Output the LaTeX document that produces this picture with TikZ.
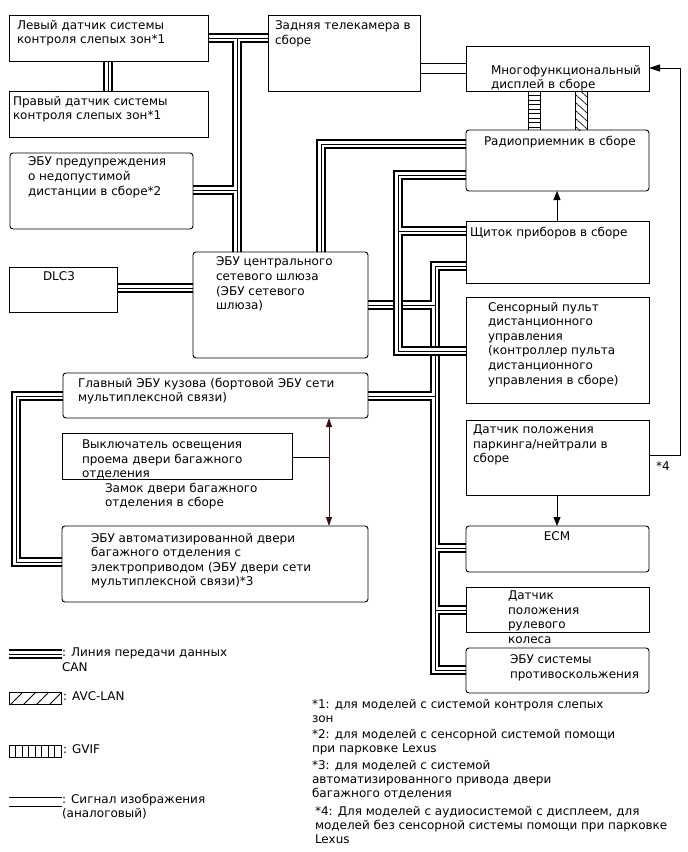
\documentclass[tikz,border=0pt]{standalone}
\usepackage{fontspec}
\setmainfont{DejaVu Sans}
\usetikzlibrary{arrows.meta,backgrounds}
\definecolor{tgcol}{HTML}{3A1010}
\newcommand\drawcan[1]{\draw[canouter] #1; \draw[caninner] #1; \draw[cancore] #1;}
\begin{document}
\begin{tikzpicture}[x=1pt,y=-1pt,
  box/.style={draw, line width=0.9pt, inner sep=0pt, outer sep=0pt, anchor=north west},
  rbox/.style={box, rounded corners=3pt},
  txt/.style={anchor=north west, inner sep=0pt, outer sep=0pt, align=left, font=\fontsize{12}{14.6}\selectfont},
  note/.style={anchor=north west, inner sep=0pt, outer sep=0pt, align=left, font=\fontsize{12}{14}\selectfont},
  canouter/.style={line width=10pt, black},
  caninner/.style={line width=6.4pt, white},
  cancore/.style={line width=0.9pt, black},
  thinline/.style={line width=0.8pt},
  arr/.style={line width=0.9pt, -{Triangle[length=9pt,width=7pt]}},
]
\useasboundingbox (0,0) rectangle (688,852);

% ---------- boxes ----------
\node[box,  minimum width=199, minimum height=46]  (lbsm)  at (9,15)   {};
\node[box,  minimum width=199, minimum height=46]  (rbsm)  at (9,91)   {};
\node[rbox, minimum width=183, minimum height=76]  (dist)  at (10,153) {};
\node[box,  minimum width=152, minimum height=76]  (cam)   at (268,15) {};
\node[box,  minimum width=183, minimum height=45]  (disp)  at (466,46) {};
\node[rbox, minimum width=183, minimum height=61]  (rad)   at (466,130) {};
\node[box,  minimum width=183, minimum height=62]  (meter) at (466,221) {};
\node[box,  minimum width=183, minimum height=106] (touch) at (466,297) {};
\node[box,  minimum width=183, minimum height=75]  (park)  at (466,420) {};
\node[rbox, minimum width=183, minimum height=46]  (ecm)   at (466,526) {};
\node[box,  minimum width=183, minimum height=45]  (steer) at (466,587) {};
\node[rbox, minimum width=183, minimum height=45]  (vsc)   at (466,648) {};
\node[box,  minimum width=108, minimum height=45]  (dlc)   at (9,267)  {};
\node[rbox, minimum width=175, minimum height=106] (gw)    at (193,252) {};
\node[rbox, minimum width=305, minimum height=45]  (mb)    at (63,373) {};
\node[box,  minimum width=230, minimum height=46]  (sw)    at (62,433) {};
\node[rbox, minimum width=306, minimum height=76]  (pbd)   at (62,526) {};

% ---------- texts ----------
\node[txt] (lbsmT)  at (17,20)  {Левый датчик системы\\контроля слепых зон*1};
\node[txt] (rbsmT)  at (13,96)  {Правый датчик системы\\контроля слепых зон*1};
\node[txt] (distT)  at (28,157) {ЭБУ предупреждения\\о недопустимой\\дистанции в сборе*2};
\node[txt] (camT)   at (275,21) {Задняя телекамера в\\сборе};
\node[txt] (dispT)  at (491,65) {Многофункциональный\\дисплей в сборе};
\node[txt] (radT)   at (484,136) {Радиоприемник в сборе};
\node[txt] (meterT) at (470,227) {Щиток приборов в сборе};
\node[txt] (touchT) at (488,302) {Сенсорный пульт\\дистанционного\\управления\\(контроллер пульта\\дистанционного\\управления в сборе)};
\node[txt] (parkT)  at (473,425) {Датчик положения\\паркинга/нейтрали в\\сборе};
\node[txt, anchor=north] (ecmT) at (557,532) {ECM};
\node[txt] (steerT) at (508,591) {Датчик\\положения\\рулевого\\колеса};
\node[txt] (vscT)   at (510,655) {ЭБУ системы\\противоскольжения};
\node[txt] (dlcT)   at (43,272) {DLC3};
\node[txt] (gwT)    at (216,257) {ЭБУ центрального\\сетевого шлюза\\(ЭБУ сетевого\\шлюза)};
\node[txt] (mbT)    at (78,378) {Главный ЭБУ кузова (бортовой ЭБУ сети\\мультиплексной связи)};
\node[txt] (swT)    at (82,440) {Выключатель освещения\\проема двери багажного\\отделения};
\node[txt] (lockT)  at (105,483) {Замок двери багажного\\отделения в сборе};
\node[txt] (pbdT)   at (91,533) {ЭБУ автоматизированной двери\\багажного отделения с\\электроприводом (ЭБУ двери сети\\мультиплексной связи)*3};
\node[txt] (n4)     at (656,462) {*4};

% ---------- CAN buses ----------
\begin{pgfonlayer}{background}
\fill[white] (0,0) rectangle (688,852);
\drawcan{(lbsm.east |- 0,38) -- (cam.west |- 0,38) (237,38) -- (gw.north -| 237,0) (dist.east |- 0,190) -- (237,190)}
\drawcan{(rad.west |- 0,144) -| (gw.north -| 321,0)}
\drawcan{(lbsm.south -| 108,0) -- (rbsm.north -| 108,0)}
\drawcan{(dlc.east |- 0,288) -- (gw.west |- 0,288)}
\drawcan{(mb.west |- 0,396) -| (16,562) -- (pbd.west |- 0,562)}
\drawcan{(meter.west |- 0,266) -| (435,670) -- (vsc.west |- 0,670) (gw.east |- 0,305) -- (435,305) (mb.east |- 0,396) -- (435,396) (435,548) -- (ecm.west |- 0,548) (435,610) -- (steer.west |- 0,610)}
\drawcan{(rad.west |- 0,175) -| (398,351) -- (touch.west |- 0,351) (398,231) -- (meter.west |- 0,231)}
\end{pgfonlayer}

% ---------- image signal ----------
\draw[thinline] (cam.east |- 0,63.5) -- (disp.west |- 0,63.5) (cam.east |- 0,73) -- (disp.west |- 0,73);

% ---------- GVIF ----------
\draw[thinline] (disp.south -| 528,0) -- (rad.north -| 528,0) (disp.south -| 540,0) -- (rad.north -| 540,0);
\foreach \yy in {95.5,100,...,127} \draw[line width=0.6pt] (528,\yy) -- (540,\yy);

% ---------- AVC-LAN ----------
\draw[thinline] (disp.south -| 575,0) -- (rad.north -| 575,0) (disp.south -| 587,0) -- (rad.north -| 587,0);
\begin{scope}
\clip (575,91) rectangle (587,130);
\foreach \yy in {78,86,...,134} \draw[line width=0.6pt] (575,\yy) -- (587,\yy+11);
\end{scope}

% ---------- arrows ----------
\draw[arr] (meter.north -| 557,0) -- (rad.south -| 557,0);
\draw[arr] (park.south -| 557,0) -- (ecm.north -| 557,0);
\draw[line width=0.9pt, -{Triangle[length=11pt,width=7pt]}] (park.east |- 0,455) -| (680,68) -- (disp.east |- 0,68);

% ---------- tailgate ----------
\coordinate (tgj) at (329,457);
\draw[tgcol, line width=0.9pt, {Triangle[length=9pt,width=6pt]}-{Triangle[length=9pt,width=6pt]}] (mb.south -| 329,0) -- (pbd.north -| 329,0);
\draw[thinline] (sw.east |- tgj) -- (tgj);

% ---------- legend ----------
\coordinate (lgc1) at (9,654);
\coordinate (lgc2) at (62,654);
\begin{pgfonlayer}{background}
\drawcan{(lgc1) -- (lgc2)}
\end{pgfonlayer}
\node[txt] (lgCANt) at (62,648) {: Линия передачи данных\\CAN};

\node[box, minimum width=52, minimum height=12] (lgAVC) at (9,692) {};
\begin{scope}
\clip (lgAVC.north west) rectangle (lgAVC.south east);
\foreach \xx in {2,15,28,41,54} \draw[thinline] (9+\xx,704) -- (9+\xx+12,692);
\end{scope}
\node[txt] (lgAVCt) at (63,692) {: AVC-LAN};

\node[box, minimum width=52, minimum height=12] (lgGV) at (9,745) {};
\foreach \xx in {15.5,22,...,55} \draw[thinline] (\xx,745) -- (\xx,757);
\node[txt] (lgGVt) at (63,745) {: GVIF};

\coordinate (lgs1) at (9,797);
\coordinate (lgs2) at (62,797);
\coordinate (lgs3) at (9,806);
\coordinate (lgs4) at (62,806);
\draw[thinline] (lgs1) -- (lgs2) (lgs3) -- (lgs4);
\node[txt] (lgSIGt) at (62,794) {: Сигнал изображения\\(аналоговый)};

% ---------- footnotes ----------
\node[note] (fn1) at (312,699) {*1: для моделей с системой контроля слепых\\зон};
\node[note] (fn2) at (312,729) {*2: для моделей с сенсорной системой помощи\\при парковке Lexus};
\node[note] (fn3) at (312,760) {*3: для моделей с системой\\автоматизированного привода двери\\багажного отделения};
\node[note] (fn4) at (315,806) {*4: Для моделей с аудиосистемой с дисплеем, для\\моделей без сенсорной системы помощи при парковке\\Lexus};
\end{tikzpicture}
\end{document}
